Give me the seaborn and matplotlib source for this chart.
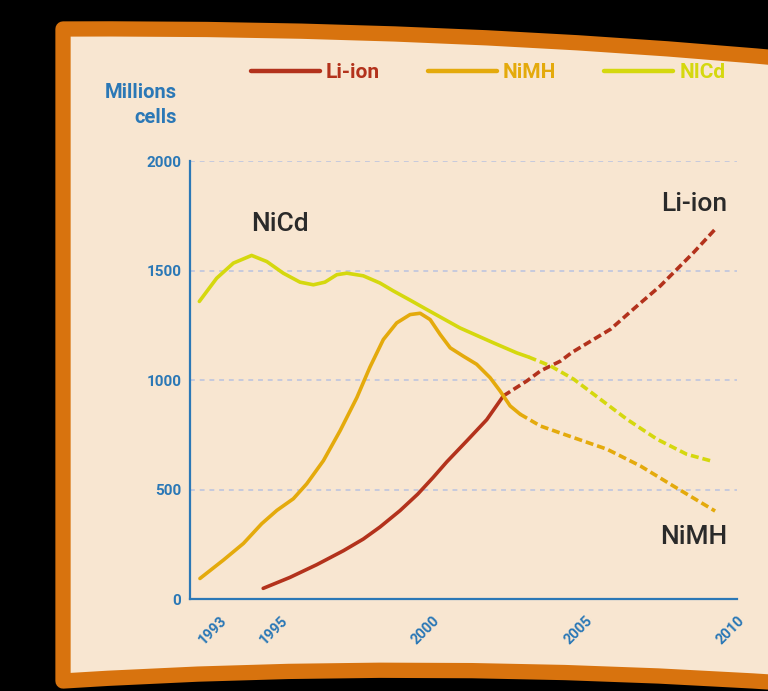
import matplotlib
matplotlib.use("Agg")
import numpy as np
import pandas as pd
import matplotlib.pyplot as plt
import seaborn as sns
from matplotlib.path import Path
from matplotlib.patches import PathPatch
from matplotlib.lines import Line2D
from matplotlib.ticker import FixedLocator, FuncFormatter

# ---- values (millions of cells) ----
li_solid_years = [1994.42, 1995.3, 1996.18, 1997.06, 1997.71, 1998.26, 1998.92, 1999.5, 2000.0,
                  2000.46, 2001.12, 2001.77, 2002.32]
li_solid_cells = [50, 100, 158, 222, 275, 330, 405, 480, 555, 628, 724, 820, 929]
li_dash_years = [2002.32, 2003.09, 2003.54, 2004.2, 2004.57, 2005.84, 2006.71, 2007.48, 2008.57, 2009.33]
li_dash_cells = [929, 997, 1043, 1088, 1127, 1233, 1339, 1431, 1583, 1697]

nimh_solid_years = [1992.34, 1993.11, 1993.77, 1994.37, 1994.87, 1995.41, 1995.85, 1996.4, 1996.95,
                    1997.5, 1997.93, 1998.37, 1998.81, 1999.25, 1999.58, 1999.91, 2000.24, 2000.57,
                    2001.0, 2001.44, 2001.88, 2002.21, 2002.54, 2002.87]
nimh_solid_cells = [95, 179, 255, 345, 406, 459, 527, 633, 770,
                    921, 1060, 1186, 1262, 1300, 1306, 1277, 1209, 1148,
                    1110, 1073, 1012, 951, 883, 845]
nimh_dash_years = [2002.87, 2003.54, 2004.63, 2005.73, 2006.82, 2007.91, 2009.28]
nimh_dash_cells = [845, 791, 738, 685, 609, 517, 403]

nicd_solid_years = [1992.32, 1992.89, 1993.44, 1994.04, 1994.54, 1995.08, 1995.63, 1996.07, 1996.45,
                    1996.84, 1997.17, 1997.71, 1998.26, 1998.7, 1999.25, 1999.8, 2000.89, 2001.99,
                    2002.76, 2003.15]
nicd_solid_cells = [1360, 1466, 1535, 1570, 1542, 1489, 1448, 1436, 1448,
                    1482, 1489, 1477, 1444, 1408, 1366, 1323, 1239, 1171,
                    1125, 1106]
nicd_dash_years = [2003.15, 2003.86, 2004.63, 2005.51, 2006.38, 2007.37, 2008.35, 2009.17]
nicd_dash_cells = [1106, 1066, 1005, 913, 822, 731, 662, 631]

series_names = ["Li-ion", "NiMH", "NICd"]
tick_years = list(range(1993, 2011))
labelled_years = [1993, 1995, 2000, 2005, 2010]
y_ticks = [0, 500, 1000, 1500, 2000]

BLUE = "#2B78B6"
CREAM = "#F8E6D1"
ORANGE = "#D8730E"
DARK = "#2A2A2A"
colors = {"Li-ion": "#B3321C", "NiMH": "#E4AA0C", "NICd": "#D5D80E"}

parts = []
for name, yrs, vals, part in [
    ("Li-ion", li_solid_years, li_solid_cells, "solid"),
    ("Li-ion", li_dash_years, li_dash_cells, "forecast"),
    ("NiMH", nimh_solid_years, nimh_solid_cells, "solid"),
    ("NiMH", nimh_dash_years, nimh_dash_cells, "forecast"),
    ("NICd", nicd_solid_years, nicd_solid_cells, "solid"),
    ("NICd", nicd_dash_years, nicd_dash_cells, "forecast"),
]:
    parts.append(pd.DataFrame({"year": yrs, "cells": vals, "series": name, "part": part}))
df = pd.concat(parts, ignore_index=True)

sns.set_theme(style="white")
plt.rcParams["font.family"] = ["Roboto", "DejaVu Sans"]

W, H = 768, 691
fig = plt.figure(figsize=(W / 100, H / 100), dpi=100, facecolor="black")

def fxy(x, y):
    return (x / W, 1 - y / H)

# cream card with the hand-drawn orange frame
verts = [fxy(63, 29), fxy(450, 27), fxy(800, 60), fxy(800, 684),
         fxy(420, 658), fxy(63, 681), fxy(63, 29)]
codes = [Path.MOVETO, Path.CURVE3, Path.CURVE3, Path.LINETO,
         Path.CURVE3, Path.CURVE3, Path.CLOSEPOLY]
card = PathPatch(Path(verts, codes), facecolor=CREAM, edgecolor=ORANGE, lw=11,
                 transform=fig.transFigure, zorder=-10, joinstyle="round")
fig.add_artist(card)

ax = fig.add_axes([189.6 / W, 1 - 599.3 / H, 547.4 / W, (599.3 - 160.6) / H])
ax.set_facecolor("none")

# draw the lines, solid history then dashed forecast
for (name, part), g in df.groupby(["series", "part"], sort=False):
    ls = "-" if part == "solid" else (0, (2.2, 1.1))
    sns.lineplot(data=g, x="year", y="cells", color=colors[name], lw=2.6,
                 linestyle=ls, estimator=None, sort=False, ax=ax, zorder=3)

ax.set_xlim(1992, 2010)
ax.set_ylim(0, 2003)
ax.set_xlabel("")
ax.set_ylabel("")

for s in ["top", "right"]:
    ax.spines[s].set_visible(False)
for s in ["left", "bottom"]:
    ax.spines[s].set_color(BLUE)
    ax.spines[s].set_linewidth(1.6)
ax.spines["left"].set_bounds(0, 2000)

ax.xaxis.set_major_locator(FixedLocator(tick_years))
ax.xaxis.set_major_formatter(FuncFormatter(lambda v, p: str(int(round(v))) if int(round(v)) in labelled_years else ""))
ax.tick_params(axis="x", direction="in", length=5.5, width=1.5, color=BLUE, pad=10,
               labelcolor=BLUE, labelsize=10.5)
for lab in ax.get_xticklabels():
    lab.set_rotation(45)
    lab.set_ha("right")
    lab.set_rotation_mode("anchor")
    lab.set_fontweight("bold")

ax.set_yticks(y_ticks)
ax.tick_params(axis="y", length=0, pad=6, labelcolor=BLUE, labelsize=11)
for lab in ax.get_yticklabels():
    lab.set_fontweight("bold")

ax.grid(axis="y", color="#C6CADD", linestyle=(0, (2.5, 2.5)), linewidth=1.4)
ax.grid(axis="x", visible=False)

# labels on the lines
ax.text(1994.03, 1680, "NiCd", color=DARK, fontsize=19, fontweight="medium", ha="left", va="baseline")
ax.text(2009.67, 1772, "Li-ion", color=DARK, fontsize=19, fontweight="medium", ha="right", va="baseline")
ax.text(2009.67, 251, "NiMH", color=DARK, fontsize=19, fontweight="medium", ha="right", va="baseline")

fig.text(177 / W, 1 - 105 / H, "Millions\ncells", color=BLUE, fontsize=14.5, fontweight="bold",
         ha="right", va="center", multialignment="right", linespacing=1.35)

handles = [Line2D([0], [0], color=colors[n], lw=3.2) for n in series_names]
fig.legend(handles, series_names, ncol=3, loc="center left", bbox_to_anchor=(251 / W, 1 - 73 / H),
           frameon=False, handlelength=3.3, handletextpad=0.3, columnspacing=2.3,
           borderpad=0, borderaxespad=0,
           labelcolor=[colors[n] for n in series_names],
           prop={"family": "Roboto", "weight": "bold", "size": 15})

fig.savefig("out.png", dpi=100, facecolor="black")
